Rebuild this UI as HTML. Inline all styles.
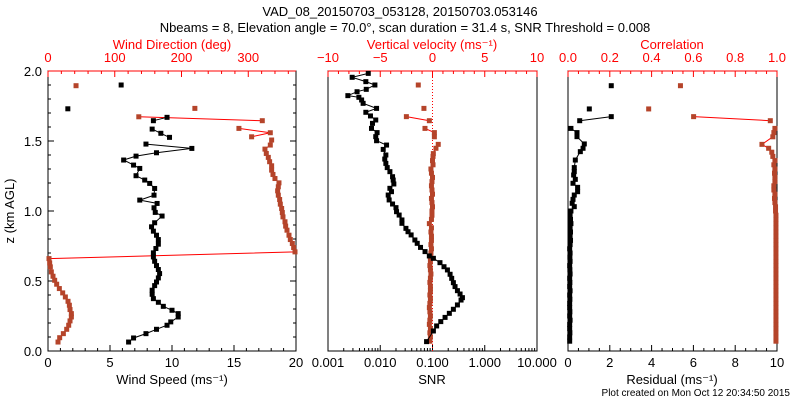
<!DOCTYPE html>
<html><head><meta charset="utf-8">
<style>
html,body{margin:0;padding:0;background:#fff;}
svg{display:block;font-family:"Liberation Sans",sans-serif;}
</style></head>
<body>
<svg id="chart" width="800" height="400" viewBox="0 0 800 400" xmlns="http://www.w3.org/2000/svg">
<rect x="0" y="0" width="800" height="400" fill="#fff"/>
<text x="400" y="16" font-size="13" text-anchor="middle">VAD_08_20150703_053128, 20150703.053146</text>
<text x="405" y="32" font-size="13" text-anchor="middle">Nbeams = 8, Elevation angle = 70.0°, scan duration = 31.4 s, SNR Threshold = 0.008</text>
<text x="790" y="396" font-size="10" text-anchor="end">Plot created on Mon Oct 12 20:34:50 2015</text>
<g id="g"></g>
</svg>
<script>
// ---- data ----
const spdZ=[0.064,0.093,0.124,0.155,0.184,0.208,0.243,0.267,0.291,0.319,0.348,0.374,0.405,0.434,0.467,0.493,0.522,0.553,0.582,0.610,0.641,0.672,0.701,0.732,0.763,0.796,0.827,0.856,0.887,0.916,0.964,0.990,1.023,1.054,1.078,1.113,1.161,1.197,1.221,1.252,1.304,1.328,1.364,1.392,1.416,1.447,1.478,null,1.526,1.555,1.585,null,1.645,1.669,null,1.73,null,1.90];
const spdV=[6.5,6.9,7.9,8.75,9.6,9.9,10.5,10.5,10.0,9.3,8.9,8.5,8.4,8.4,8.6,8.75,8.9,9.0,8.9,8.75,8.6,8.5,8.5,8.7,8.9,8.9,8.75,8.5,8.35,8.6,9.2,8.65,8.55,8.8,7.4,8.55,8.6,8.2,7.8,7.1,7.4,6.9,6.1,7.1,8.75,11.6,7.9,null,9.8,9.1,8.4,null,8.5,9.6,null,1.6,null,5.9];
const dirZ=[0.064,0.095,0.124,0.155,0.184,0.215,0.243,0.267,0.296,0.327,0.355,0.386,0.415,0.446,0.477,0.505,0.534,0.565,0.601,0.629,0.660,0.708,0.739,0.768,0.796,0.827,0.863,0.892,0.923,0.958,0.989,1.018,1.049,1.082,1.113,1.144,1.173,1.201,1.232,1.261,1.292,1.323,1.352,1.383,1.411,1.442,1.471,1.507,null,1.530,1.559,1.590,null,1.645,1.673,null,1.733,null,1.895];
const dirV=[15,17.5,23,28,31,33,35,35,33,32,30,26,22,17,13,10,7.5,5,3.5,2.5,1.5,370,368,366,363,361,358,356,355,352,351,350,348,347,345,344,345,346,340,337,335,335,332,330,327,325,333,335,null,305,333,286,null,321,136,null,220,null,42];
const snrZ=[0.067,0.143,0.179,0.210,0.240,0.269,0.298,0.329,0.364,0.381,0.407,0.431,0.460,0.488,0.519,0.548,0.579,0.602,0.631,0.662,0.679,0.710,0.740,0.769,0.793,0.829,0.852,0.876,0.912,0.936,0.971,0.995,1.024,1.05,1.079,1.114,1.138,1.162,1.193,1.221,1.245,1.281,1.31,1.34,1.371,1.4,1.44,1.471,1.502,1.531,1.56,1.59,1.626,1.65,1.679,1.705,1.733,1.769,1.793,1.812,1.824,1.852,1.869,1.9,1.924,1.955,1.983];
const snrV=[0.077,0.104,0.120,0.144,0.174,0.210,0.251,0.300,0.352,0.374,0.337,0.300,0.270,0.251,0.233,0.217,0.193,0.166,0.139,0.104,0.087,0.072,0.059,0.051,0.046,0.039,0.034,0.031,0.026,0.026,0.023,0.0205,0.020,0.0172,0.0148,0.0142,0.0164,0.0153,0.0182,0.0177,0.0172,0.0153,0.0136,0.0128,0.0122,0.0128,0.0114,0.0132,0.0085,0.0082,0.0087,0.0068,0.0071,0.0082,0.0065,0.0053,0.0085,0.0047,0.0044,0.0039,0.0024,0.0036,0.0054,0.0079,0.0053,0.0029,0.0059];
const vvZ=[0.07,0.10,0.13,0.16,0.19,0.22,0.25,0.28,0.31,0.34,0.37,0.40,0.43,0.46,0.49,0.52,0.55,0.58,0.61,0.64,0.67,0.70,0.73,0.76,0.79,0.82,0.85,0.88,0.91,0.94,0.97,1.00,1.03,1.06,1.09,1.12,1.15,1.18,1.21,1.24,1.27,1.30,1.33,1.36,1.39,1.41,1.448,1.476,null,1.53,1.56,1.59,null,1.645,1.674,null,1.733,null,1.90];
const vvV=[-0.25,-0.2,-0.25,-0.2,-0.3,-0.25,-0.2,-0.25,-0.3,-0.25,-0.2,-0.25,-0.2,-0.2,-0.25,-0.2,-0.15,-0.2,-0.25,-0.2,-0.2,-0.15,-0.1,-0.15,-0.1,-0.1,-0.15,-0.1,-0.3,-0.1,-0.05,-0.05,0,-0.05,-0.1,0,-0.05,-0.1,-0.05,0,-0.1,-0.15,0.05,0.0,0.05,0.08,0.33,0.55,null,0.18,0.18,-0.72,null,-0.3,-2.5,null,-0.82,null,-1.36];
const resZ=[0.07,0.10,0.13,0.16,0.19,0.22,0.25,0.28,0.31,0.34,0.37,0.40,0.43,0.46,0.49,0.52,0.55,0.58,0.61,0.64,0.67,0.70,0.73,0.76,0.79,0.82,0.85,0.88,0.91,0.94,0.97,1.00,1.031,1.055,1.083,1.114,1.138,1.169,1.198,1.226,1.257,1.281,1.31,1.364,1.424,1.448,1.479,1.531,1.56,1.59,null,1.645,1.674,null,1.729,null,1.895];
const resV=[0.08,0.08,0.09,0.08,0.08,0.1,0.08,0.09,0.08,0.08,0.09,0.08,0.1,0.08,0.09,0.08,0.1,0.09,0.08,0.1,0.09,0.1,0.08,0.1,0.12,0.1,0.12,0.1,0.14,0.12,0.1,0.14,0.3,0.2,0.24,0.3,0.46,0.46,0.24,0.35,0.27,0.3,0.3,0.35,0.59,0.72,0.78,0.43,0.43,0.14,null,0.56,2.07,null,1.02,null,2.07];
const corZ=[0.07,0.10,0.13,0.16,0.19,0.22,0.25,0.28,0.31,0.34,0.37,0.40,0.43,0.46,0.49,0.52,0.55,0.58,0.61,0.64,0.67,0.70,0.73,0.76,0.79,0.82,0.85,0.88,0.91,0.94,0.97,1.00,1.03,1.06,1.09,1.12,1.15,1.18,1.21,1.24,1.27,1.30,1.33,1.36,1.39,1.42,1.448,1.476,1.53,1.56,1.59,null,1.645,1.674,null,1.729,null,1.895];
const corV=[0.995,0.995,0.995,0.995,0.995,0.995,0.995,0.995,0.995,0.995,0.995,0.995,0.995,0.995,0.995,0.995,0.995,0.995,0.995,0.995,0.995,0.995,0.995,0.995,0.995,0.995,0.995,0.995,0.995,0.995,0.995,0.993,0.993,0.99,0.988,0.99,0.985,0.985,0.99,0.99,0.988,0.99,0.985,0.99,0.98,0.975,0.96,0.928,0.98,0.985,0.99,null,0.968,0.601,null,0.386,null,0.538];

const NS="http://www.w3.org/2000/svg";
const G=document.getElementById('g');
const Y0=351,Y1=71;
function yz(z){return Y0+(Y1-Y0)*z/2;}
function mk(tag,attrs,parent){const e=document.createElementNS(NS,tag);for(const k in attrs)e.setAttribute(k,attrs[k]);(parent||G).appendChild(e);return e;}
function txt(x,y,s,fill,size,name,anchor){const t=mk('text',{x:x,y:y,fill:fill,'font-size':size,'text-anchor':anchor||'middle'});t.textContent=s;


return t;}
function series(zs,vs,fx,lineCol,mCol,name){
  const g=mk('g',{});
  
  
  let d='',pen=false;
  for(let i=0;i<zs.length;i++){
    if(zs[i]===null||vs[i]===null){pen=false;continue;}
    const x=fx(vs[i]),y=yz(zs[i]);
    d+=(pen?'L':'M')+x.toFixed(1)+' '+y.toFixed(1)+' ';pen=true;
  }
  mk('path',{d:d,fill:'none',stroke:lineCol,'stroke-width':1},g);
  for(let i=0;i<zs.length;i++){
    if(zs[i]===null||vs[i]===null)continue;
    const p=mk('rect',{x:fx(vs[i])-2.5,y:yz(zs[i])-2.5,width:5,height:5,fill:mCol},g);
    
    
  }
}
function tick(x1,y1,x2,y2,c){mk('line',{x1:x1,y1:y1,x2:x2,y2:y2,stroke:c,'stroke-width':1});}

// Panel 1
const P1={l:48,r:296};
const fs=v=>P1.l+(P1.r-P1.l)*v/20;
const fd=v=>P1.l+(P1.r-P1.l)*v/371.5;
mk('rect',{x:P1.l,y:Y1,width:P1.r-P1.l,height:Y0-Y1,fill:'none',stroke:'#000'});
for(let k=0;k<=20;k++){const z=k/10,y=yz(z),L=k%5==0?6:3;tick(P1.l,y,P1.l+L,y,'#000');tick(P1.r,y,P1.r-L,y,'#000');}
['0.0','0.5','1.0','1.5','2.0'].forEach((s,i)=>txt(42,yz(i*0.5)+5,s,'#000',13,'y-tick-label','end'));
for(let k=0;k<=20;k++){const x=fs(k),L=k%5==0?6:3;tick(x,Y0,x,Y0-L,'#000');}
[0,5,10,15,20].forEach(v=>txt(fs(v),367,String(v),'#000',13,'wind-speed-tick-label'));
for(let k=0;k<=18;k++){const x=fd(k*20);if(x>P1.r+0.5)break;const L=k%5==0?6:3;tick(x,Y1,x,Y1+L,'#f00');}
tick(P1.l,Y1,P1.r,Y1,'#f00');
[0,100,200,300].forEach(v=>txt(fd(v),62,String(v),'#f00',13,'wind-direction-tick-label'));
txt(172,384,'Wind Speed (ms⁻¹)','#000',13,'x-axis-title-wind-speed');
txt(172,49,'Wind Direction (deg)','#f00',13,'x-axis-title-wind-direction');
const yt=txt(0,0,'z (km AGL)','#000',13,'y-axis-title');yt.setAttribute('transform','translate(14,211) rotate(-90)');
series(dirZ,dirV,fd,'#f00','#b5442a','wind-direction-series');
series(spdZ,spdV,fs,'#000','#000','wind-speed-series');

// Panel 2
const P2={l:328,r:537};
const fsn=v=>P2.l+(P2.r-P2.l)*(Math.log10(v)+3)/4;
const fvv=v=>P2.l+(P2.r-P2.l)*(v+10)/20;
mk('rect',{x:P2.l,y:Y1,width:P2.r-P2.l,height:Y0-Y1,fill:'none',stroke:'#000'});
for(let e=-3;e<1;e++)for(let m=1;m<=9;m++){const x=fsn(m*Math.pow(10,e));tick(x,Y0,x,Y0-(m==1?6:3),'#000');}
['0.001','0.010','0.100','1.000','10.000'].forEach((s,i)=>txt(fsn(Math.pow(10,i-3)),367,s,'#000',13,'snr-tick-label'));
tick(P2.l,Y1,P2.r,Y1,'#f00');
for(let k=-10;k<=10;k++){const x=fvv(k);tick(x,Y1,x,Y1+(k%5==0?6:3),'#f00');}
[-10,-5,0,5,10].forEach(v=>txt(fvv(v),62,v<0?'−'+(-v):String(v),'#f00',13,'vertical-velocity-tick-label'));
txt(432,384,'SNR','#000',13,'x-axis-title-snr');
txt(432,49,'Vertical velocity (ms⁻¹)','#f00',13,'x-axis-title-vertical-velocity');
mk('line',{x1:fvv(0),y1:Y1,x2:fvv(0),y2:Y0,stroke:'#f00','stroke-dasharray':'1,2'});
series(vvZ,vvV,fvv,'#f00','#b5442a','vertical-velocity-series');
series(snrZ,snrV,fsn,'#000','#000','snr-series');

// Panel 3
const P3={l:568,r:777};
const fr=v=>P3.l+(P3.r-P3.l)*v/10;
const fc=v=>P3.l+(P3.r-P3.l)*v;
mk('rect',{x:P3.l,y:Y1,width:P3.r-P3.l,height:Y0-Y1,fill:'none',stroke:'#000'});
for(let k=0;k<=20;k++){const x=fr(k/2);tick(x,Y0,x,Y0-(k%4==0?6:3),'#000');}
[0,2,4,6,8,10].forEach(v=>txt(fr(v),367,String(v),'#000',13,'residual-tick-label'));
tick(P3.l,Y1,P3.r,Y1,'#f00');
for(let k=0;k<=20;k++){const x=fc(k/20);tick(x,Y1,x,Y1+(k%4==0?6:3),'#f00');}
['0.0','0.2','0.4','0.6','0.8','1.0'].forEach((s,i)=>txt(fc(i*0.2),62,s,'#f00',13,'correlation-tick-label'));
txt(672,384,'Residual (ms⁻¹)','#000',13,'x-axis-title-residual');
txt(672,49,'Correlation','#f00',13,'x-axis-title-correlation');
series(corZ,corV,fc,'#f00','#b5442a','correlation-series');
series(resZ,resV,fr,'#000','#000','residual-series');
</script>
</body></html>
